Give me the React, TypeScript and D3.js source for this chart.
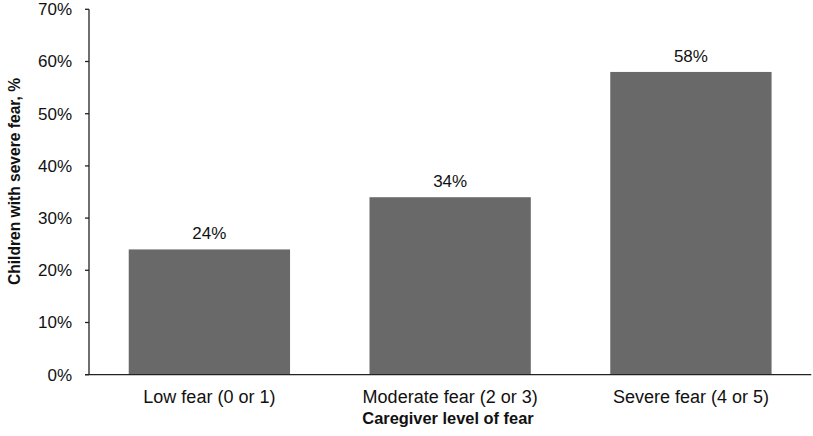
import React from "react";
import * as d3 from "d3";

const categories = ["Low fear (0 or 1)", "Moderate fear (2 or 3)", "Severe fear (4 or 5)"];
const values = [24, 34, 58];
const yTicks = [0, 10, 20, 30, 40, 50, 60, 70];

const W = 813;
const H = 436;
const margin = { left: 89, top: 9.3, right: 1.7, bottom: 61.3 };
const FONT = "Liberation Sans, Arial, Helvetica, sans-serif";

export default function App() {
  const x = d3
    .scaleBand<string>()
    .domain(categories)
    .range([margin.left, W - margin.right])
    .paddingInner(0.33)
    .paddingOuter(0.165);
  const y = d3.scaleLinear().domain([0, 70]).range([H - margin.bottom, margin.top]);
  const y0 = y(0);
  return (
    <svg width={W} height={H} style={{ position: "absolute", left: 0, top: 0, background: "#fff" }} fontFamily={FONT}>
      {categories.map((c, i) => (
        <g key={c}>
          <rect x={x(c)} y={y(values[i])} width={x.bandwidth()} height={y0 - y(values[i])} fill="#696969" />
          <text x={(x(c) as number) + x.bandwidth() / 2} y={y(values[i]) - 10} textAnchor="middle" fontSize={17} fill="#111">
            {values[i]}%
          </text>
          <text x={(x(c) as number) + x.bandwidth() / 2} y={403} textAnchor="middle" fontSize={18} fill="#111">
            {c}
          </text>
        </g>
      ))}
      <line x1={margin.left} x2={margin.left} y1={margin.top} y2={y0} stroke="#222" strokeWidth={1.3} />
      <line x1={margin.left - 4} x2={W - margin.right} y1={y0} y2={y0} stroke="#222" strokeWidth={1.3} />
      {yTicks.map((t) => (
        <g key={t}>
          <line x1={margin.left - 4} x2={margin.left} y1={y(t)} y2={y(t)} stroke="#222" strokeWidth={1.3} />
          <text x={72} y={y(t)} dy="0.35em" textAnchor="end" fontSize={17} fill="#111">
            {t}%
          </text>
        </g>
      ))}
      <text x={448} y={424} textAnchor="middle" fontSize={16.4} fontWeight="bold" fill="#111">
        Caregiver level of fear
      </text>
      <text
        transform={`translate(19.5, 181.5) rotate(-90)`}
        textAnchor="middle"
        fontSize={15.6}
        fontWeight="bold"
        fill="#111"
      >
        Children with severe fear, %
      </text>
    </svg>
  );
}
